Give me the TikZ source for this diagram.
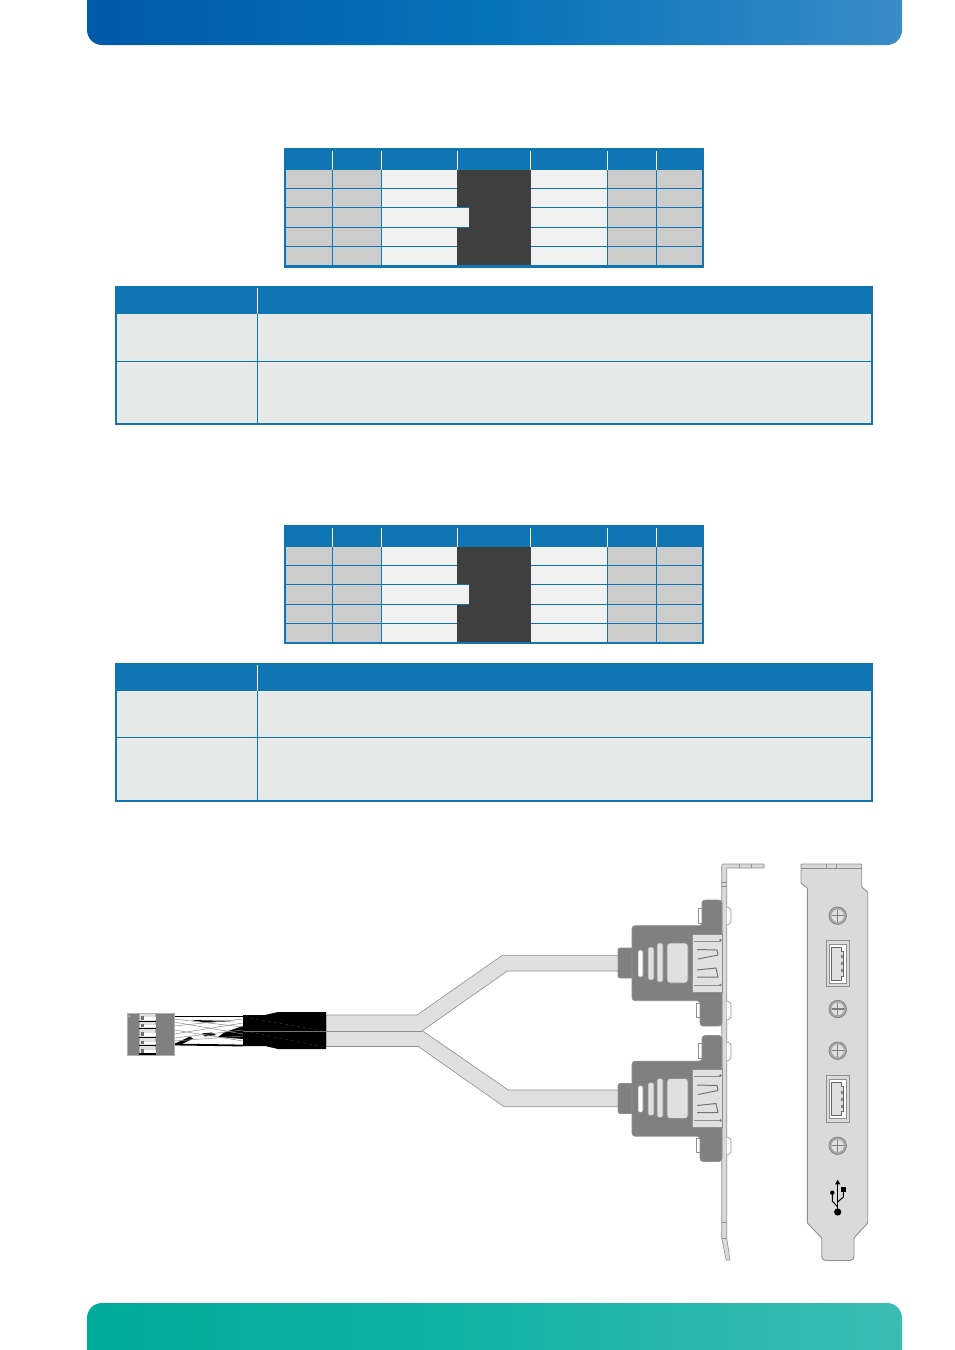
\documentclass[tikz,border=0pt]{standalone}
\usepackage{tikz}
\definecolor{tabblue}{HTML}{0F75B3}
\definecolor{darkcell}{HTML}{3F3F3F}
\definecolor{greycell}{HTML}{CCCCCC}
\definecolor{lightcell}{HTML}{F1F1F1}
\definecolor{desccell}{HTML}{E7E9E9}
\definecolor{plugdark}{HTML}{808080}
\definecolor{pluglight}{HTML}{E0E0E0}
\definecolor{plateface}{HTML}{DADADA}
\definecolor{edgegrey}{HTML}{8F8F8F}
\definecolor{topleft}{HTML}{005AAA}
\definecolor{topmid}{HTML}{0573BA}
\definecolor{topright}{HTML}{3A8CC6}
\definecolor{footleft}{HTML}{00AB9A}
\definecolor{footmid}{HTML}{14B2A6}
\definecolor{footright}{HTML}{3BBCB5}
\tikzset{
    rule/.style={tabblue, line width=0.9pt},
    headrule/.style={white, line width=0.9pt},
    part/.style={draw=edgegrey, line width=0.6pt, line join=round},
}
\newcommand{\PinTable}[2]{% y offset, outer bottom
\begin{scope}[shift={(0,#1)}]
\fill [tabblue] (284,148) rectangle (704,#2);
\fill [greycell] (286,170) rectangle (381,265);
\fill [lightcell] (381,170) rectangle (457,265);
\fill [lightcell] (531,170) rectangle (607,265);
\fill [greycell] (607,170) rectangle (702,265);
\foreach \y in {188.3,207.7,227.3,246.7}
{   \draw [rule] (286,\y) -- (457,\y);
    \draw [rule] (531,\y) -- (702,\y);
}
\foreach \x in {332.3,381.3,607.3,656.7}
{   \draw [rule] (\x,170) -- (\x,265);
}
\fill [darkcell] (457,170) rectangle (531,265);
\fill [lightcell] (457,207.7) rectangle (469,227.3);
\draw [rule] (457,207.7) -- (469,207.7);
\draw [rule] (457,227.3) -- (469,227.3);
\foreach \x in {332.3,381.3,457.5,530.5,607.3,656.7}
{   \draw [headrule] (\x,150.5) -- (\x,170);
}
\end{scope}
}
\newcommand{\DescTable}[2]{% y offset, row line
\begin{scope}[shift={(0,#1)}]
\fill [tabblue] (115,286) rectangle (873,425);
\fill [desccell] (117,313.5) rectangle (871,423);
\draw [rule] (117,#2) -- (871,#2);
\draw [rule] (257.3,313.5) -- (257.3,423);
\draw [headrule] (257.3,288) -- (257.3,313.5);
\end{scope}
}
\newcommand{\SidePlug}[1]{% y offset
\begin{scope}[shift={(0,#1)}]
\draw [part, fill=white] (698,908) -- (702,908) -- (702,923) -- (698,923) -- cycle;
\draw [part, fill=white] (696,1003) -- (700,1003) -- (700,1017) -- (696,1017) -- cycle;
\draw [part, fill=plugdark, rounded corners=2pt] (632,948) -- (618,948) -- (618,978) -- (632,978);
\draw [part, fill=plugdark, rounded corners=3pt] (722,900) -- (702,900) -- (702,925.7) -- (632,925.7) -- (632,1000.7) -- (700,1000.7) -- (700,1026) -- (722,1026) -- cycle;
\fill [pluglight] (692,934) rectangle (722,992);
\draw [edgegrey] (692,934) rectangle (722,992);
\draw [edgegrey] (694,941) -- (721,941);
\draw [edgegrey] (694,985) -- (721,985);
\fill [plugdark] (720.5,940) circle (1.4);
\fill [plugdark] (720.5,985) circle (1.4);
\draw [black!55, line width=1pt, line join=round] (697,949.5) -- (717,950) -- (718,955) -- (698,959);
\draw [black!55, line width=1pt, line join=round] (697,970) -- (716,968) -- (718,977) -- (697,977);
\draw [part, fill=white, rounded corners=1.5pt] (638,950) rectangle (643,977);
\draw [part, fill=pluglight, rounded corners=1.5pt] (648,947) rectangle (654,980);
\draw [part, fill=pluglight, rounded corners=1.5pt] (657,943) rectangle (663,982);
\draw [part, fill=pluglight, rounded corners=3pt] (667,943) rectangle (688,983);
\end{scope}
}
\newcommand{\PlateScrew}[1]{% y position
\draw [edgegrey!80!black, fill=plugdark!70, line width=0.5pt] (837.7,#1) circle (8.8);
\fill [pluglight] (837.7,#1) circle (6.2);
\draw [plugdark, line width=1.4pt] (831.5,#1) -- (844,#1);
\draw [plugdark, line width=1.4pt] (837.7,#1-6.2) -- (837.7,#1+6.2);
}
\newcommand{\PlatePort}[1]{% y offset
\begin{scope}[shift={(0,#1)}]
\draw [edgegrey, fill=plateface, line width=0.9pt] (826,940) rectangle (849.3,986.7);
\draw [edgegrey, fill=white, line width=0.5pt] (829,944) rectangle (846.7,983);
\draw [black!60, fill=pluglight, line width=0.6pt] (831,947) -- (841,947) -- (841,951) -- (843,951) -- (843,976) -- (841,976) -- (841,980) -- (831,980) -- cycle;
\foreach \y in {955,962,969}
{   \fill [black!50] (840.5,\y) rectangle (843,\y+3);
}
\end{scope}
}
\begin{document}
\begin{tikzpicture}[x=1pt, y=-1pt, line cap=butt]
\useasboundingbox (0,0) rectangle (954,1350);
% top and bottom bands
\begin{scope}
\clip (0,0) rectangle (954,1350);
\shade [left color=topleft, right color=topright, middle color=topmid, rounded corners=15pt] (87,-20) -- (87,45) -- (902,45) -- (902,-20) -- cycle;
\shade [left color=footleft, right color=footright, middle color=footmid, rounded corners=15pt] (87,1370) -- (87,1303) -- (902,1303) -- (902,1370) -- cycle;
\end{scope}
% tables
\PinTable{0}{268}
\DescTable{0}{361.3}
\PinTable{377}{267}
\DescTable{377}{360.3}
% cable
\draw [part, fill=pluglight] (326,1015) -- (417,1015) -- (502.3,955.3) -- (622,955.3) -- (622,971) -- (507.3,971) -- (422.3,1030.7) -- (508.3,1090) -- (622,1090) -- (622,1106.7) -- (504,1106.7) -- (418.3,1046.5) -- (326,1046.5) -- cycle;
\draw [edgegrey] (326,1030.7) -- (422.3,1030.7);
% loose wires
\fill [white] (174,1015.5) rectangle (243,1045);
\draw [black, line width=0.9pt] (174,1016.5) -- (243,1016.5);
\draw [black, line width=1.8pt] (174,1044.5) -- (243,1045.5);
\fill [black] (174,1044) -- (190,1036.5) -- (193,1038.5) -- (180,1045) -- cycle;
\fill [black] (191,1020) -- (235,1021) -- (205,1022.5) -- cycle;
\fill [black] (202,1033.5) -- (212,1032.5) -- (216,1035) -- (205,1036.5) -- cycle;
\fill [black] (243,1026) -- (225,1032) -- (218,1037) -- (243,1039) -- cycle;
\foreach \a/\b in {1019/1027,1022/1034,1026/1019,1030/1041,1034/1023,1038/1030,1041/1036}
{   \draw [black!45, line width=0.5pt] (174,\a) -- (243,\b);
}
% shrink sleeve
\fill [black] (243,1015) -- (265,1015) -- (278,1012) -- (326,1012) -- (326,1049) -- (278,1049) -- (265,1046) -- (243,1046) -- cycle;
\draw [black!55, line width=0.4pt] (243,1031) -- (326,1031);
\draw [black!70, dashed, line width=0.3pt] (250,1018) -- (323,1031);
\draw [black!70, dashed, line width=0.3pt] (250,1032) -- (323,1047);
% header on the cable
\draw [edgegrey!70, fill=plugdark] (127.5,1013.3) rectangle (174,1055);
\draw [edgegrey!70, fill=pluglight] (139,1013.3) rectangle (155.5,1055);
\foreach \y in {1018.3,1025.7,1034.3,1042.7,1051}
{   \fill [black] (139,\y+2.2) rectangle (155.5,\y+3.6);
    \fill [white] (144,\y-1.2) rectangle (155.5,\y+1.6);
    \fill [black!55] (141,\y-2.2) rectangle (144,\y+1.6);
}
\fill [white] (129.3,1016) circle (0.7);
% side view of the bracket
\draw [part, fill=plateface] (726.7,1238) -- (730,1260) -- (726.2,1260) -- (721.7,1238) -- (721.7,866) -- (723,864) -- (764,864) -- (764,868) -- (726.7,868) -- cycle;
\foreach \x in {739,751.5}
{   \draw [edgegrey] (\x,864) -- (\x,868);
}
\draw [edgegrey] (721.7,882) -- (726.7,882);
\draw [edgegrey] (721.7,886) -- (726.7,886);
\draw [edgegrey] (721.7,1222) -- (726.7,1222);
\draw [edgegrey] (721.7,1238) -- (726.7,1238);
\foreach \a/\b in {907/925,1001/1020,1042/1061,1137/1155}
{   \draw [part, fill=white, rounded corners=1.5pt] (726.7,\a) -- (731,\a+1.5) -- (731,\b-1.5) -- (726.7,\b);
}
\SidePlug{0}
\SidePlug{135.5}
% front view of the bracket
\draw [edgegrey, fill=plateface, line width=0.9pt, rounded corners=0.8pt] (801,864) -- (861.7,864) -- (861.7,887) -- (867.7,892) -- (867.7,1223) -- (854,1238) -- (854,1254) [rounded corners=4pt] -- (854,1260.5) -- (821.7,1260.5) [rounded corners=0.8pt] -- (821.7,1238) -- (807.3,1223) -- (807.3,888) -- (801,883) -- cycle;
\draw [edgegrey, line width=0.5pt] (801,868) -- (861.7,868);
\foreach \x in {826,836}
{   \draw [edgegrey, line width=0.5pt] (\x,864) -- (\x,868);
}
\foreach \y in {915.7,1009,1050.7,1145.7}
{   \PlateScrew{\y}
}
\PlatePort{0}
\PlatePort{135.5}
% usb symbol
\fill [black] (837.7,1212) circle (3.6);
\draw [black, line width=1.2pt] (837.7,1212) -- (837.7,1183);
\fill [black] (837.7,1179.8) -- (840.4,1184.4) -- (835,1184.4) -- cycle;
\draw [black, line width=1pt] (837.7,1207) -- (832.3,1201) -- (832.3,1193);
\draw [black, line width=1pt] (837.7,1202) -- (843.3,1197) -- (843.3,1190);
\fill [black] (832.3,1192.7) circle (2.2);
\fill [black] (841,1187) rectangle (845.6,1191.6);
\end{tikzpicture}
\end{document}
